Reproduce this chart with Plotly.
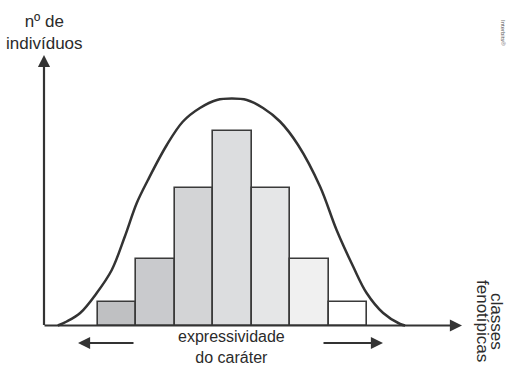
import plotly.graph_objects as go

# Phenotypic classes (bars) and number of individuals
classes = [1, 2, 3, 4, 5, 6, 7]
individuals = [24, 67, 138, 195, 138, 67, 24]
bar_colors = ["#bfc0c2", "#c9cacd", "#d3d4d6", "#dcdddf", "#e5e6e7", "#f0f0f0", "#ffffff"]

# Bell-shaped envelope curve
curve_x = [-0.53, -0.30, 0.05, 0.48, 0.87, 1.21, 1.52, 1.81, 2.30, 2.72, 3.16, 3.60, 3.99,
           4.38, 4.80, 5.24, 5.71, 6.28, 6.71, 7.14, 7.49, 7.92, 8.36, 8.49]
curve_y = [0, 4, 12.5, 32.5, 55.5, 89, 122.5, 145.5, 180.5, 204, 217.5, 225.5, 227,
           225.5, 217.5, 204, 180.5, 139, 95.5, 59, 32.5, 12.5, 1.5, 0]

W, H = 507, 365
PX_PER_X = 38.5
X0_PX = 116.75
BASE_PX = 325.5


def px_x(p):
    return (p - X0_PX) / PX_PER_X + 1


def px_y(p):
    return BASE_PX - p


ink = "#333333"
font = "Liberation Sans, Arial, sans-serif"

fig = go.Figure()
fig.add_trace(go.Bar(
    x=classes, y=individuals, width=1,
    marker=dict(color=bar_colors, line=dict(color="#3a3a3a", width=1.6)),
    hoverinfo="skip",
))
fig.add_trace(go.Scatter(
    x=curve_x, y=curve_y, mode="lines",
    line=dict(color=ink, width=2.5, shape="spline", smoothing=1.0),
    hoverinfo="skip",
))

annotations = []


def arrow(x0, y0, x1, y1):
    annotations.append(dict(
        x=x1, y=y1, ax=x0, ay=y0, xref="x", yref="y", axref="x", ayref="y",
        text="", showarrow=True, arrowhead=2, arrowsize=1.1, arrowwidth=2.2,
        arrowcolor=ink,
    ))


# axes
arrow(px_x(44), px_y(326.5), px_x(44), px_y(55))
arrow(px_x(43), 0, px_x(462), 0)
# expressivity arrows
arrow(px_x(135), px_y(343), px_x(78), px_y(343))
arrow(px_x(322), px_y(343), px_x(383), px_y(343))


def label(text, xp, yp, size=17, angle=0, color="#2b2b2b"):
    annotations.append(dict(
        x=px_x(xp), y=px_y(yp), xref="x", yref="y", text=text, showarrow=False,
        textangle=angle, font=dict(family=font, size=size, color=color),
        xanchor="center", yanchor="middle", align="center",
    ))


label("nº de<br>indivíduos", 44, 32)
label("expressividade<br>do caráter", 231, 347, size=16)
label("classes", 497, 321, angle=90)
label("fenotípicas", 483, 321, angle=90)
label("Interbits®", 503, 33, size=6, angle=90, color="#555555")

fig.update_layout(
    width=W, height=H,
    margin=dict(l=0, r=0, t=0, b=0),
    paper_bgcolor="white", plot_bgcolor="white",
    showlegend=False, bargap=0,
    xaxis=dict(range=[px_x(0), px_x(W)], visible=False, fixedrange=True),
    yaxis=dict(range=[px_y(H), px_y(0)], visible=False, fixedrange=True),
    annotations=annotations,
)

fig.write_html("out.html", config={"displayModeBar": False},
               post_script="document.body.style.margin='0';document.body.style.overflow='hidden';")
